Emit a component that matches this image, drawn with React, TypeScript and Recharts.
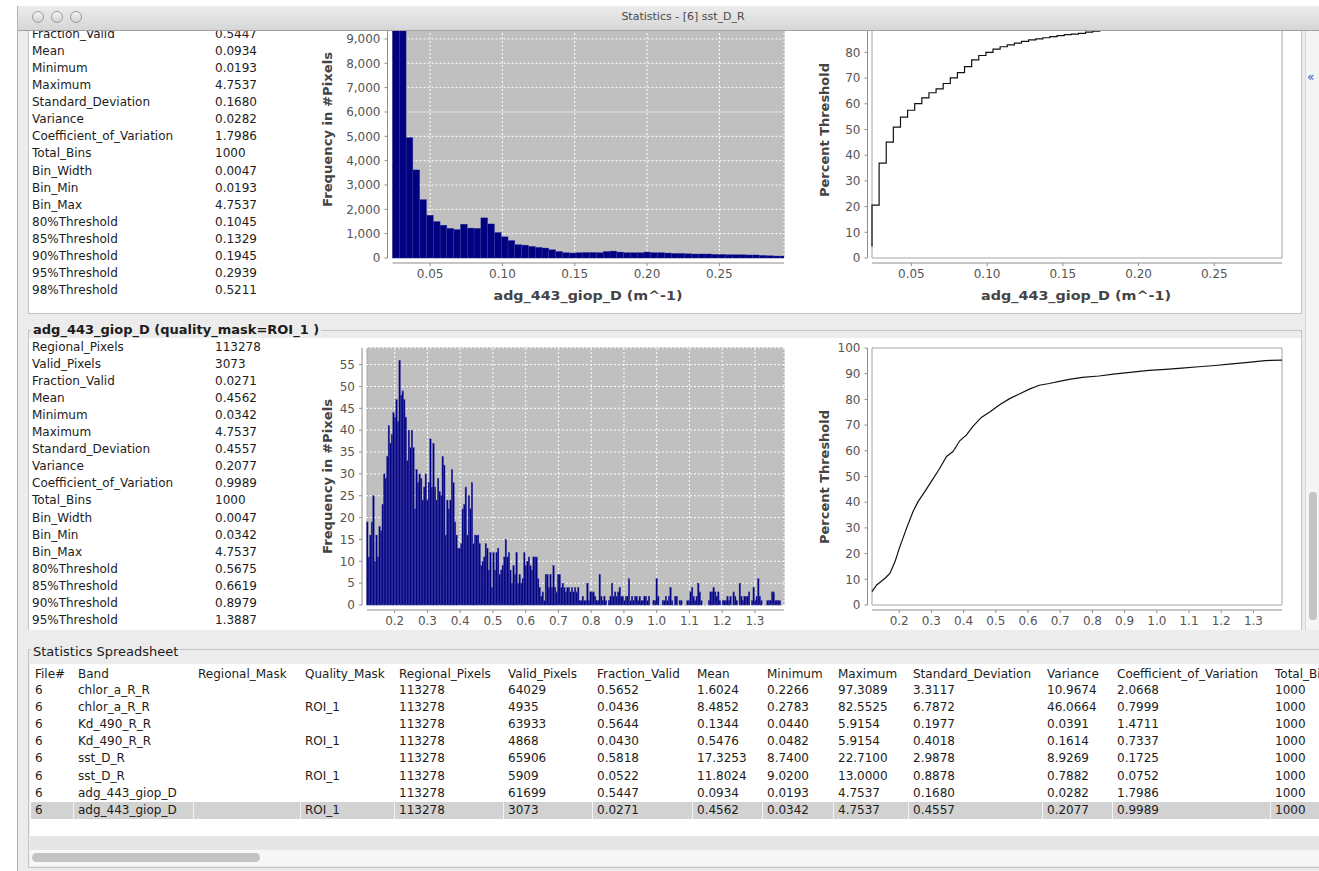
import React from "react";
import {
  Bar,
  CartesianGrid,
  ComposedChart,
  Line,
  ReferenceArea,
  ReferenceLine,
  XAxis,
  YAxis,
} from "recharts";

const FONT = '"DejaVu Sans", Verdana, sans-serif';
const NAVY = "#000080";
const AXIS_GREY = "#8e8e8e";
const TICK_GREY = "#555555";
const PANEL_BG = "#ececec";
const BORDER = "#c4c4c4";

// ---- band statistics (left lists) ----
const STAT_LABELS = [
  "Regional_Pixels", "Valid_Pixels", "Fraction_Valid", "Mean", "Minimum", "Maximum",
  "Standard_Deviation", "Variance", "Coefficient_of_Variation", "Total_Bins", "Bin_Width",
  "Bin_Min", "Bin_Max", "80%Threshold", "85%Threshold", "90%Threshold", "95%Threshold", "98%Threshold",
];
const STATS_ALL = [
  "113278", "61699", "0.5447", "0.0934", "0.0193", "4.7537", "0.1680", "0.0282", "1.7986",
  "1000", "0.0047", "0.0193", "4.7537", "0.1045", "0.1329", "0.1945", "0.2939", "0.5211",
];
const STATS_ROI = [
  "113278", "3073", "0.0271", "0.4562", "0.0342", "4.7537", "0.4557", "0.2077", "0.9989",
  "1000", "0.0047", "0.0342", "4.7537", "0.5675", "0.6619", "0.8979", "1.3887",
];

// ---- histogram bins ----
const BIN_WIDTH = 0.0047;
const BIN_MIN_ALL = 0.0193;
const BIN_MIN_ROI = 0.0342;

// counts for bins 1..58 (whole band)
const HIST_ALL_FIRST_BIN = 1;
const HIST_ALL = [
  9930, 10060, 4950, 3620, 2400, 1760, 1500, 1350, 1220, 1170,
  1390, 1230, 1220, 1650, 1400, 1050, 870, 720, 550, 530,
  480, 440, 410, 340, 270, 220, 205, 220, 230, 230,
  220, 270, 285, 245, 220, 220, 220, 245, 220, 220,
  205, 190, 190, 175, 165, 165, 165, 150, 150, 135,
  135, 135, 125, 125, 110, 95, 82, 82,
];
// percent threshold at the end of bins 0..58
const CUM_ALL = [
  4.5, 20.6, 36.9, 45.1, 50.9, 54.8, 57.5, 60.1, 62.3, 64.3,
  65.8, 67.9, 70.1, 72.1, 74.5, 77.1, 78.8, 80.0, 81.3, 82.2,
  82.9, 83.6, 84.3, 84.9, 85.3, 85.7, 86.1, 86.5, 86.9, 87.1,
  87.4, 87.9, 88.3, 88.6, 88.9, 89.2, 89.5, 89.8, 90.1, 90.4,
  90.7, 91.0, 91.3, 91.5, 91.8, 92.0, 92.3, 92.5, 92.8, 93.0,
  93.2, 93.5, 93.7, 93.9, 94.1, 94.3, 94.5, 94.7, 94.9,
];

// counts for bins 17..287 (quality_mask=ROI_1)
const HIST_ROI_FIRST_BIN = 17;
const HIST_ROI = [
  19, 11, 16, 19, 25, 10, 16, 11, 18, 17,
  23, 30, 29, 34, 41, 37, 39, 44, 43, 47,
  42, 56, 48, 49, 47, 43, 33, 40, 36, 40,
  36, 22, 31, 28, 30, 29, 24, 27, 30, 24,
  28, 38, 27, 37, 27, 24, 29, 26, 25, 34,
  32, 16, 24, 22, 24, 31, 28, 19, 16, 13,
  13, 14, 22, 23, 27, 16, 25, 22, 28, 14,
  16, 16, 16, 14, 9, 10, 11, 14, 13, 8,
  12, 4, 12, 8, 12, 13, 7, 8, 9, 11,
  15, 11, 12, 8, 5, 9, 7, 12, 5, 7,
  5, 6, 12, 9, 10, 11, 9, 8, 11, 11,
  11, 6, 4, 2, 3, 1, 7, 7, 4, 7,
  4, 9, 4, 3, 7, 7, 4, 5, 4, 3,
  4, 4, 3, 4, 3, 4, 3, 4, 1, 1,
  2, 1, 1, 5, 1, 3, 3, 3, 2, 1,
  1, 7, 2, 1, 2, 1, 0, 1, 2, 5,
  2, 3, 2, 3, 4, 2, 2, 1, 2, 2,
  6, 1, 2, 1, 2, 2, 1, 2, 1, 1,
  2, 2, 1, 2, 0, 0, 1, 1, 6, 2,
  0, 0, 1, 1, 2, 1, 2, 4, 1, 0,
  2, 2, 0, 1, 1, 0, 0, 0, 1, 1,
  3, 4, 2, 1, 2, 5, 3, 1, 0, 0,
  0, 0, 1, 3, 3, 4, 3, 2, 3, 1,
  0, 1, 1, 1, 2, 1, 2, 0, 3, 2,
  1, 0, 5, 2, 1, 2, 2, 2, 3, 0,
  1, 4, 1, 2, 6, 2, 1, 0, 0, 0,
  1, 1, 1, 3, 3, 1, 1, 1, 1, 0, 0,
];
const CUM_ROI_X = [
  0.1155, 0.13, 0.156, 0.171, 0.187, 0.202, 0.223, 0.243, 0.259, 0.28,
  0.3, 0.326, 0.347, 0.367, 0.388, 0.409, 0.429, 0.455, 0.481, 0.512,
  0.543, 0.573, 0.604, 0.635, 0.666, 0.697, 0.728, 0.769, 0.82, 0.872,
  0.924, 0.975, 1.027, 1.078, 1.13, 1.181, 1.233, 1.284, 1.336, 1.3887,
];
const CUM_ROI_PCT = [
  5.2, 7.8, 10.4, 12.3, 16.9, 22.7, 29.9, 36.4, 40.3, 44.2,
  48.1, 53.2, 57.8, 59.7, 63.9, 66.2, 69.5, 73.0, 75.1, 77.9,
  80.3, 82.1, 84.0, 85.5, 86.2, 87.0, 87.8, 88.6, 89.1, 89.9,
  90.6, 91.3, 91.7, 92.2, 92.7, 93.2, 93.8, 94.4, 95.1, 95.3,
];

const RANGE_ALL: [number, number] = [0.024, 0.2947];
const RANGE_ROI: [number, number] = [0.1155, 1.3887];
const X_TICKS_ALL = [0.05, 0.1, 0.15, 0.2, 0.25];
const X_TICKS_ROI = [0.2, 0.3, 0.4, 0.5, 0.6, 0.7, 0.8, 0.9, 1.0, 1.1, 1.2, 1.3];
const Y_TICKS_ALL = [0, 1000, 2000, 3000, 4000, 5000, 6000, 7000, 8000, 9000];
const Y_TICKS_ROI = [0, 5, 10, 15, 20, 25, 30, 35, 40, 45, 50, 55];
const Y_TICKS_PCT_ALL = [0, 10, 20, 30, 40, 50, 60, 70, 80, 90];
const Y_TICKS_PCT_ROI = [0, 10, 20, 30, 40, 50, 60, 70, 80, 90, 100];
const HIST_MAX_ALL = 10560;
const HIST_MAX_ROI = 58.8;

// ---- statistics spreadsheet ----
const SHEET_COLUMNS = [
  "File#", "Band", "Regional_Mask", "Quality_Mask", "Regional_Pixels", "Valid_Pixels",
  "Fraction_Valid", "Mean", "Minimum", "Maximum", "Standard_Deviation", "Variance",
  "Coefficient_of_Variation", "Total_Bins",
];
const SHEET_COL_X = [35, 78, 198, 305, 399, 508, 597, 697, 767, 838, 913, 1047, 1117, 1275];
const SHEET_ROWS = [
  ["6", "chlor_a_R_R", "", "", "113278", "64029", "0.5652", "1.6024", "0.2266", "97.3089", "3.3117", "10.9674", "2.0668", "1000"],
  ["6", "chlor_a_R_R", "", "ROI_1", "113278", "4935", "0.0436", "8.4852", "0.2783", "82.5525", "6.7872", "46.0664", "0.7999", "1000"],
  ["6", "Kd_490_R_R", "", "", "113278", "63933", "0.5644", "0.1344", "0.0440", "5.9154", "0.1977", "0.0391", "1.4711", "1000"],
  ["6", "Kd_490_R_R", "", "ROI_1", "113278", "4868", "0.0430", "0.5476", "0.0482", "5.9154", "0.4018", "0.1614", "0.7337", "1000"],
  ["6", "sst_D_R", "", "", "113278", "65906", "0.5818", "17.3253", "8.7400", "22.7100", "2.9878", "8.9269", "0.1725", "1000"],
  ["6", "sst_D_R", "", "ROI_1", "113278", "5909", "0.0522", "11.8024", "9.0200", "13.0000", "0.8878", "0.7882", "0.0752", "1000"],
  ["6", "adg_443_giop_D", "", "", "113278", "61699", "0.5447", "0.0934", "0.0193", "4.7537", "0.1680", "0.0282", "1.7986", "1000"],
  ["6", "adg_443_giop_D", "", "ROI_1", "113278", "3073", "0.0271", "0.4562", "0.0342", "4.7537", "0.4557", "0.2077", "0.9989", "1000"],
];
const SELECTED_ROW = 7;

// vertical layout inside one band panel (relative to the panel origin)
const BOX_TOP = 16;
const BOX_H = 322;
const PLOT_TOP = 26;
const ZERO_Y = 283;
const AXIS_Y = 288;
const ROW_Y0 = 25.3;
const ROW_H = 17.07;

type Pt = { x: number; y: number };

type ChartCfg = {
  left: number;
  width: number;
  axisX: number;
  plotLeft: number;
  plotRight: number;
  range: [number, number];
  yMax: number;
  xTicks: number[];
  yTicks: number[];
  xFmt: (v: number) => string;
  yFmt: (v: number) => string;
  kind: "hist" | "cum";
  curve?: "stepBefore" | "linear";
  data: Pt[];
};

function PanelChart(p: ChartCfg) {
  const span = p.range[1] - p.range[0];
  const plotW = p.plotRight - p.plotLeft;
  const xLow = p.range[0] - ((p.plotLeft - p.axisX) * span) / plotW;
  const yLow = -((AXIS_Y - ZERO_Y) * p.yMax) / (ZERO_Y - PLOT_TOP);
  const binPx = (BIN_WIDTH * plotW) / span;
  const hist = p.kind === "hist";
  const tickStyle = { fill: TICK_GREY, fontSize: 12, fontFamily: FONT };

  return (
    <div style={{ position: "absolute", left: p.left, top: BOX_TOP }}>
      <ComposedChart
        width={p.width}
        height={BOX_H}
        data={p.data}
        margin={{ top: PLOT_TOP - BOX_TOP, right: p.left + p.width - p.plotRight, bottom: 0, left: 0 }}
        barCategoryGap={0}
        barGap={0}
      >
        <XAxis
          type="number"
          dataKey="x"
          domain={[xLow, p.range[1]]}
          allowDataOverflow
          ticks={p.xTicks}
          interval={0}
          height={BOX_TOP + BOX_H - AXIS_Y}
          axisLine={false}
          tickLine={{ stroke: AXIS_GREY }}
          tickSize={3}
          tickMargin={3}
          tick={tickStyle}
          tickFormatter={p.xFmt}
        />
        <YAxis
          type="number"
          domain={[yLow, p.yMax]}
          allowDataOverflow
          ticks={p.yTicks}
          interval={0}
          width={p.axisX - p.left}
          axisLine={false}
          tickLine={{ stroke: AXIS_GREY }}
          tickSize={3}
          tickMargin={4}
          tick={tickStyle}
          tickFormatter={p.yFmt}
        />
        <ReferenceArea
          x1={p.range[0]}
          x2={p.range[1]}
          y1={0}
          y2={p.yMax}
          fill={hist ? "#c0c0c0" : "#ffffff"}
          fillOpacity={1}
          stroke="#a4a4a4"
          ifOverflow="visible"
          zIndex={-200}
        />
        {hist && <CartesianGrid stroke="#ffffff" strokeDasharray="2 2" />}
        {hist ? (
          <Bar
            dataKey="y"
            fill={NAVY}
            isAnimationActive={false}
            shape={(s: any) => (
              <rect
                x={s.x}
                y={s.y}
                width={binPx}
                height={Math.max(0, s.height)}
                fill={NAVY}
                stroke="#3c3ca6"
                strokeWidth={0.35}
              />
            )}
          />
        ) : (
          <Line
            type={p.curve}
            dataKey="y"
            stroke="#111111"
            strokeWidth={1.2}
            dot={false}
            activeDot={false}
            isAnimationActive={false}
          />
        )}
        <ReferenceLine
          segment={[{ x: p.range[0], y: yLow }, { x: p.range[1], y: yLow }]}
          stroke={AXIS_GREY}
          ifOverflow="visible"
        />
        <ReferenceLine
          segment={[{ x: xLow, y: 0 }, { x: xLow, y: p.yMax }]}
          stroke={AXIS_GREY}
          ifOverflow="visible"
        />
      </ComposedChart>
    </div>
  );
}

function AxisTitles({ xTitle, showX }: { xTitle: string; showX: boolean }) {
  const common = { fontFamily: FONT, fontSize: 13, fontWeight: 700, fill: "#444444" };
  return (
    <svg style={{ position: "absolute", left: 0, top: 0, pointerEvents: "none" }} width={1319} height={347}>
      {showX && (
        <text x={588} y={325} textAnchor="middle" textLength={189} lengthAdjust="spacingAndGlyphs" {...common}>
          {xTitle}
        </text>
      )}
      {showX && (
        <text x={1076} y={325} textAnchor="middle" textLength={190} lengthAdjust="spacingAndGlyphs" {...common}>
          {xTitle}
        </text>
      )}
      <text
        x={327}
        y={154.5}
        dy={4.5}
        textAnchor="middle"
        textLength={155}
        lengthAdjust="spacingAndGlyphs"
        transform="rotate(-90 327 154.5)"
        {...common}
      >
        Frequency in #Pixels
      </text>
      <text
        x={824}
        y={155}
        dy={4.5}
        textAnchor="middle"
        textLength={134}
        lengthAdjust="spacingAndGlyphs"
        transform="rotate(-90 824 155)"
        {...common}
      >
        Percent Threshold
      </text>
    </svg>
  );
}

// firstRow: rows scrolled out of view above the pane are not drawn
function BandPanel({
  top,
  title,
  stats,
  firstRow,
  showXTitle,
  hist,
  cum,
}: {
  top: number;
  title: string | null;
  stats: string[];
  firstRow: number;
  showXTitle: boolean;
  hist: ChartCfg;
  cum: ChartCfg;
}) {
  return (
    <div style={{ position: "absolute", left: -19, top, width: 1319, height: 347 }}>
      <div
        style={{
          position: "absolute",
          left: 28,
          top: 8,
          width: 1274,
          height: 331,
          border: `1px solid ${BORDER}`,
          boxSizing: "border-box",
        }}
      />
      {title && (
        <div
          style={{
            position: "absolute",
            left: 31,
            top: 0,
            height: 16,
            lineHeight: "16px",
            padding: "0 2px",
            background: PANEL_BG,
            fontSize: 13,
            fontWeight: 700,
            color: "#1c1c1c",
            whiteSpace: "nowrap",
          }}
        >
          {title}
        </div>
      )}
      <div style={{ position: "absolute", left: 29, top: BOX_TOP, width: 1272, height: BOX_H, background: "#ffffff" }} />
      {stats.map((v, i) =>
        i < firstRow ? null : (
          <div
            key={STAT_LABELS[i]}
            style={{
              position: "absolute",
              left: 0,
              top: ROW_Y0 + i * ROW_H - 8.5,
              height: 17,
              lineHeight: "17px",
              fontSize: 12,
              color: "#1c1c1c",
              whiteSpace: "nowrap",
            }}
          >
            <span style={{ position: "absolute", left: 32 }}>{STAT_LABELS[i]}</span>
            <span style={{ position: "absolute", left: 215 }}>{v}</span>
          </div>
        )
      )}
      <PanelChart {...hist} />
      <PanelChart {...cum} />
      <AxisTitles xTitle="adg_443_giop_D (m^-1)" showX={showXTitle} />
    </div>
  );
}

function TitleBar() {
  const lights = [38, 57, 76];
  return (
    <>
      <div
        style={{
          position: "absolute",
          left: 18,
          top: 6,
          width: 1301,
          height: 24,
          background: "linear-gradient(#ececec, #d6d6d6)",
          borderBottom: "1px solid #a2a2a2",
        }}
      />
      {lights.map((cx) => (
        <div
          key={cx}
          style={{
            position: "absolute",
            left: cx - 6,
            top: 11,
            width: 12,
            height: 12,
            borderRadius: 6,
            boxSizing: "border-box",
            border: "1px solid #9c9c9c",
            background: "linear-gradient(#f4f4f4, #d2d2d2)",
          }}
        />
      ))}
      <div
        style={{
          position: "absolute",
          left: 18,
          width: 1330,
          top: 9,
          height: 16,
          lineHeight: "16px",
          textAlign: "center",
          fontSize: 11,
          color: "#4a4a4a",
        }}
      >
        Statistics - [6] sst_D_R
      </div>
    </>
  );
}

function Spreadsheet() {
  const rowTop = (i: number) => 682.2 + i * 17.07;
  return (
    <>
      <div
        style={{
          position: "absolute",
          left: 28,
          top: 649,
          width: 1300,
          height: 219,
          border: `1px solid ${BORDER}`,
          boxSizing: "border-box",
        }}
      />
      <div
        style={{
          position: "absolute",
          left: 31,
          top: 643,
          height: 18,
          lineHeight: "18px",
          padding: "0 2px",
          background: PANEL_BG,
          fontSize: 13,
          color: "#1c1c1c",
          whiteSpace: "nowrap",
        }}
      >
        Statistics Spreadsheet
      </div>
      <div style={{ position: "absolute", left: 30, top: 664, width: 1289, height: 172, background: "#ffffff" }} />
      <div
        style={{ position: "absolute", left: 31, top: rowTop(SELECTED_ROW), width: 1288, height: 17, background: "#d2d2d2" }}
      />
      {SHEET_COL_X.slice(1).map((x) => (
        <div
          key={x}
          style={{ position: "absolute", left: x - 5, top: rowTop(SELECTED_ROW), width: 1, height: 17, background: "#f4f4f4" }}
        />
      ))}
      {SHEET_COLUMNS.map((c, j) => (
        <div
          key={c}
          style={{
            position: "absolute",
            left: SHEET_COL_X[j],
            top: 665.5,
            height: 17,
            lineHeight: "17px",
            fontSize: 12,
            color: "#1c1c1c",
            whiteSpace: "nowrap",
          }}
        >
          {c}
        </div>
      ))}
      {SHEET_ROWS.map((row, i) =>
        row.map((cell, j) => (
          <div
            key={`${i}-${j}`}
            style={{
              position: "absolute",
              left: SHEET_COL_X[j],
              top: rowTop(i),
              height: 17,
              lineHeight: "17px",
              fontSize: 12,
              color: "#1c1c1c",
              whiteSpace: "nowrap",
            }}
          >
            {cell}
          </div>
        ))
      )}
      <div style={{ position: "absolute", left: 30, top: 836, width: 1289, height: 14, background: "#e6e6e6" }} />
      <div style={{ position: "absolute", left: 30, top: 850, width: 1289, height: 16, background: "#f7f7f7" }} />
      <div
        style={{ position: "absolute", left: 32, top: 853, width: 228, height: 9, borderRadius: 5, background: "#c3c3c3" }}
      />
    </>
  );
}

const xFmt2 = (v: number) => v.toFixed(2);
const xFmt1 = (v: number) => v.toFixed(1);
const yFmtCount = (v: number) => v.toLocaleString("en-US");
const yFmtPlain = (v: number) => String(v);

export default function App() {
  const histAllData = HIST_ALL.map((count, i) => ({
    x: BIN_MIN_ALL + (HIST_ALL_FIRST_BIN + i + 0.5) * BIN_WIDTH,
    y: count,
  }));
  const cumAllData = CUM_ALL.map((pct, i) => ({ x: BIN_MIN_ALL + (i + 1) * BIN_WIDTH, y: pct }));
  const histRoiData = HIST_ROI.map((count, i) => ({
    x: BIN_MIN_ROI + (HIST_ROI_FIRST_BIN + i + 0.5) * BIN_WIDTH,
    y: count,
  }));
  const cumRoiData = CUM_ROI_X.map((x, i) => ({ x, y: CUM_ROI_PCT[i] }));

  const histAll: ChartCfg = {
    left: 300, width: 500, axisX: 387.5, plotLeft: 392.5, plotRight: 784, range: RANGE_ALL,
    yMax: HIST_MAX_ALL, xTicks: X_TICKS_ALL, yTicks: Y_TICKS_ALL, xFmt: xFmt2, yFmt: yFmtCount,
    kind: "hist", data: histAllData,
  };
  const cumAll: ChartCfg = {
    left: 800, width: 500, axisX: 867.5, plotLeft: 872, plotRight: 1282, range: RANGE_ALL,
    yMax: 100, xTicks: X_TICKS_ALL, yTicks: Y_TICKS_PCT_ALL, xFmt: xFmt2, yFmt: yFmtPlain,
    kind: "cum", curve: "stepBefore", data: cumAllData,
  };
  const histRoi: ChartCfg = {
    left: 300, width: 500, axisX: 362, plotLeft: 367, plotRight: 784, range: RANGE_ROI,
    yMax: HIST_MAX_ROI, xTicks: X_TICKS_ROI, yTicks: Y_TICKS_ROI, xFmt: xFmt1, yFmt: yFmtPlain,
    kind: "hist", data: histRoiData,
  };
  const cumRoi: ChartCfg = {
    left: 800, width: 500, axisX: 867.5, plotLeft: 872, plotRight: 1282, range: RANGE_ROI,
    yMax: 100, xTicks: X_TICKS_ROI, yTicks: Y_TICKS_PCT_ROI, xFmt: xFmt1, yFmt: yFmtPlain,
    kind: "cum", curve: "linear", data: cumRoiData,
  };

  return (
    <div
      style={{
        position: "absolute",
        left: 0,
        top: 0,
        width: 1319,
        height: 871,
        overflow: "hidden",
        background: "#ffffff",
        fontFamily: FONT,
      }}
    >
      <div
        style={{
          position: "absolute",
          left: 17,
          top: 6,
          width: 1310,
          height: 870,
          background: PANEL_BG,
          borderLeft: "1px solid #b2b2b2",
        }}
      />
      <TitleBar />

      {/* scrolled statistics pane */}
      <div
        style={{
          position: "absolute",
          left: 19,
          top: 31,
          width: 1286,
          height: 599,
          overflow: "hidden",
          background: PANEL_BG,
        }}
      >
        <BandPanel
          top={-25 - 31}
          title={null}
          stats={STATS_ALL}
          firstRow={2}
          showXTitle={true}
          hist={histAll}
          cum={cumAll}
        />
        <BandPanel
          top={322 - 31}
          title="adg_443_giop_D (quality_mask=ROI_1 )"
          stats={STATS_ROI}
          firstRow={0}
          showXTitle={false}
          hist={histRoi}
          cum={cumRoi}
        />
      </div>

      {/* vertical scrollbar of the pane */}
      <div
        style={{
          position: "absolute",
          left: 1305,
          top: 31,
          width: 14,
          height: 599,
          background: "#f4f4f4",
          borderLeft: "1px solid #d6d6d6",
        }}
      />
      <div
        style={{ position: "absolute", left: 1309, top: 492, width: 8, height: 128, borderRadius: 4, background: "#c3c3c3" }}
      />
      <div style={{ position: "absolute", left: 1307, top: 69, fontSize: 12, lineHeight: "16px", color: "#2d52c8" }}>«</div>

      <Spreadsheet />
    </div>
  );
}
